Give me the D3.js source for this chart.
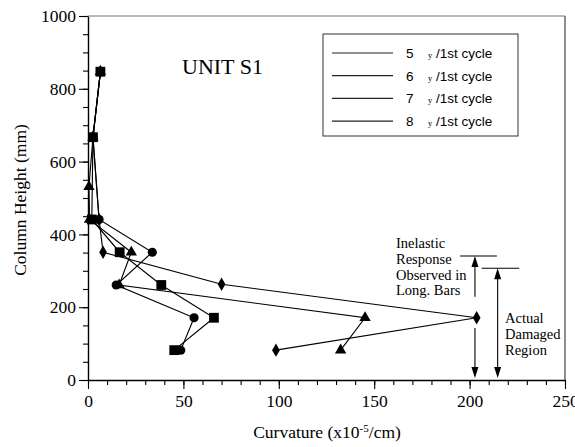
<!DOCTYPE html>
<html>
<head>
<meta charset="utf-8">
<script src="https://cdn.jsdelivr.net/npm/d3@7"></script>
<style>
  body { margin: 0; background: #fff; }
  #chart { width: 575px; height: 447px; }
</style>
</head>
<body>
<div id="chart"></div>
<script>
// Curvature profile, Unit S1

// Legend labels
let legendNums = ["5", "6", "7", "8"];

// Column heights (mm) per series
let hCircle = [847, 667, 441, 351, 261, 171, 82];
let hSquare = [847, 667, 441, 351, 261, 171, 82];
let hTriangle = [847, 667, 531, 441, 351, 261, 171, 82];
let hDiamond = [847, 667, 441, 351, 263, 171, 82];

// Curvature (x10^-5/cm) per series
let kCircle = [6.5, 2.6, 5.8, 33.7, 14.8, 55.6, 48.6];
let kSquare = [6.5, 2.6, 2.0, 16.6, 38.4, 66.0, 45.2];
let kTriangle = [6.5, 2.6, 0.5, 0.8, 22.7, 16.3, 145.2, 132.4];
let kDiamond = [6.5, 2.6, 5.8, 7.9, 70.0, 203.7, 98.5];

// Axis ticks
let xTicks = [0, 50, 100, 150, 200, 250];
let yTicks = [0, 200, 400, 600, 800, 1000];

let width = 575;
let height = 447;
let serif = "'Liberation Serif', 'Times New Roman', serif";
let sans = "'Liberation Sans', Arial, sans-serif";

let svg = d3.select("#chart").append("svg")
  .attr("width", width)
  .attr("height", height);

let x = d3.scaleLinear().domain([0, 250]).range([88, 565]);
let y = d3.scaleLinear().domain([0, 1000]).range([380, 16]);

// Frame (top and right)
svg.append("line")
  .attr("x1", x(0)).attr("x2", x(250))
  .attr("y1", y(1000)).attr("y2", y(1000))
  .attr("stroke", "#777").attr("stroke-width", 1.2);
svg.append("line")
  .attr("x1", x(250)).attr("x2", x(250))
  .attr("y1", y(1000)).attr("y2", y(0))
  .attr("stroke", "#444").attr("stroke-width", 1.2);

// Minor ticks
svg.append("g")
  .attr("transform", `translate(0,${y(0)})`)
  .call(d3.axisBottom(x).tickValues(d3.range(0, 251, 10)).tickSize(5).tickFormat(""))
  .call(g => g.select(".domain").remove());
svg.append("g")
  .attr("transform", `translate(${x(0)},0)`)
  .call(d3.axisLeft(y).tickValues(d3.range(0, 1001, 50)).tickSize(5).tickFormat(""))
  .call(g => g.select(".domain").remove());

// Major axes
let xAxis = svg.append("g")
  .attr("transform", `translate(0,${y(0)})`)
  .call(d3.axisBottom(x).tickValues(xTicks).tickSize(9).tickSizeOuter(0).tickPadding(6).tickFormat(d3.format("d")));
let yAxis = svg.append("g")
  .attr("transform", `translate(${x(0)},0)`)
  .call(d3.axisLeft(y).tickValues(yTicks).tickSize(9).tickSizeOuter(0).tickPadding(3).tickFormat(d3.format("d")));

svg.selectAll(".tick line").attr("stroke", "#000").attr("stroke-width", 1.1);
[xAxis, yAxis].forEach(a => {
  a.select(".domain").attr("stroke", "#000").attr("stroke-width", 1.4);
  a.selectAll("text")
    .attr("font-family", serif)
    .attr("font-size", 17.5)
    .attr("fill", "#000");
});

// Axis titles
let xt = svg.append("text")
  .attr("x", 327).attr("y", 438)
  .attr("text-anchor", "middle")
  .attr("font-family", serif).attr("font-size", 17.5);
xt.append("tspan").text("Curvature (x10");
xt.append("tspan").attr("dy", -6).attr("font-size", 11).text("-5");
xt.append("tspan").attr("dy", 6).text("/cm)");

svg.append("text")
  .attr("transform", "translate(26,200) rotate(-90)")
  .attr("text-anchor", "middle")
  .attr("font-family", serif).attr("font-size", 17.5)
  .text("Column Height (mm)");

// Title
svg.append("text")
  .attr("x", 182).attr("y", 74)
  .attr("font-family", serif).attr("font-size", 22)
  .text("UNIT S1");

// Series
let line = d3.line().x(d => x(d.k)).y(d => y(d.h));
const zip = (hs, ks) => hs.map((h, i) => ({ h: h, k: ks[i] }));

let series = [
  { shape: d3.symbolDiamond, size: 52, data: zip(hDiamond, kDiamond) },
  { shape: d3.symbolCircle, size: 66, data: zip(hCircle, kCircle) },
  { shape: d3.symbolTriangle, size: 56, data: zip(hTriangle, kTriangle) },
  { shape: d3.symbolSquare, size: 96, data: zip(hSquare, kSquare) }
];

series.forEach(s => {
  svg.append("path")
    .datum(s.data)
    .attr("d", line)
    .attr("fill", "none")
    .attr("stroke", "#000")
    .attr("stroke-width", 1.15);
});
series.forEach(s => {
  svg.selectAll(null)
    .data(s.data)
    .enter()
    .append("path")
      .attr("transform", d => `translate(${x(d.k)},${y(d.h)})`)
      .attr("d", d3.symbol(s.shape, s.size))
      .attr("fill", "#000");
});

// Legend
let legend = svg.append("g");
legend.append("rect")
  .attr("x", 323).attr("y", 34)
  .attr("width", 195).attr("height", 102)
  .attr("fill", "#fff").attr("stroke", "#333").attr("stroke-width", 1);
legendNums.forEach((n, i) => {
  let ly = 53 + i * 22.7;
  legend.append("line")
    .attr("x1", 332).attr("x2", 393)
    .attr("y1", ly).attr("y2", ly)
    .attr("stroke", "#222").attr("stroke-width", 1.2);
  let t = legend.append("text")
    .attr("y", ly + 5)
    .attr("font-family", sans).attr("font-size", 13.5);
  t.append("tspan").attr("x", 406).text(n);
  t.append("tspan").attr("x", 428).attr("font-family", serif).attr("font-size", 8.5).text("y");
  t.append("tspan").attr("x", 436).text("/1st cycle");
});

// Annotations
let ann = svg.append("g").attr("font-family", serif).attr("font-size", 14.5);
["Inelastic", "Response", "Observed in", "Long. Bars"].forEach((s, i) => {
  ann.append("text").attr("x", 396).attr("y", 248 + i * 15.8).text(s);
});
["Actual", "Damaged", "Region"].forEach((s, i) => {
  ann.append("text").attr("x", 505).attr("y", 323 + i * 15.8).text(s);
});

const arrowHead = (px, py, dir) => {
  // dir: -1 points up, 1 points down
  ann.append("path")
    .attr("d", `M${px},${py} L${px - 3.5},${py - dir * 11} L${px + 3.5},${py - dir * 11} Z`)
    .attr("fill", "#000");
};
const vLine = (px, y1, y2) => {
  ann.append("line")
    .attr("x1", px).attr("x2", px).attr("y1", y1).attr("y2", y2)
    .attr("stroke", "#000").attr("stroke-width", 1.1);
};
const hLine = (x1, x2, py) => {
  ann.append("line")
    .attr("x1", x1).attr("x2", x2).attr("y1", py).attr("y2", py)
    .attr("stroke", "#000").attr("stroke-width", 1.1);
};

// inelastic response arrows
let a1 = x(202.8);
hLine(x(195), x(214.3), y(340.7));
vLine(a1, y(229), y(340.7) + 4);
arrowHead(a1, y(340.7), -1);
vLine(a1, y(143), y(0) - 6);
arrowHead(a1, y(0) - 2, 1);

// actual damaged region arrow
let a2 = x(214.7);
hLine(x(206.3), x(226), y(306.9));
vLine(a2, y(306.9) + 4, y(0) - 6);
arrowHead(a2, y(306.9), -1);
arrowHead(a2, y(0) - 2, 1);
</script>
</body>
</html>
